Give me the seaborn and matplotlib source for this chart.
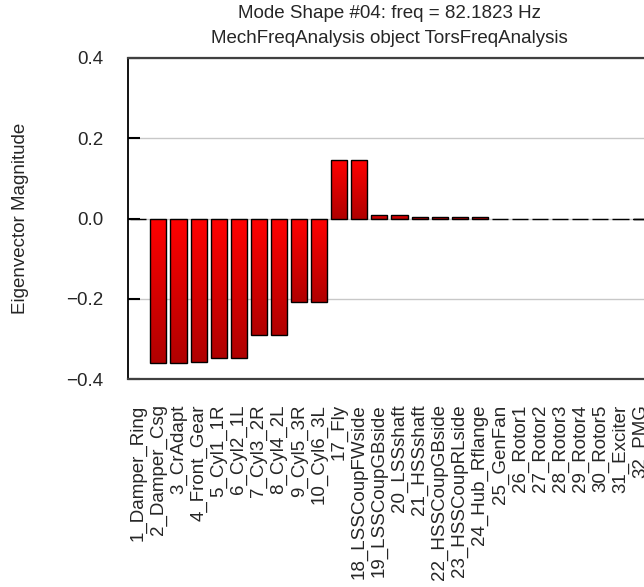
import numpy as np
import pandas as pd
import matplotlib
matplotlib.use('Agg')
import matplotlib.pyplot as plt
from matplotlib.colors import LinearSegmentedColormap
import seaborn as sns

# mode shape data
nodes = ['1_Damper_Ring', '2_Damper_Csg', '3_CrAdapt', '4_Front_Gear', '5_Cyl1_1R',
         '6_Cyl2_1L', '7_Cyl3_2R', '8_Cyl4_2L', '9_Cyl5_3R', '10_Cyl6_3L',
         '17_Fly', '18_LSSCoupFWside', '19_LSSCoupGBside', '20_LSSshaft', '21_HSSshaft',
         '22_HSSCoupGBside', '23_HSSCoupRLside', '24_Hub_Rflange', '25_GenFan',
         '26_Rotor1', '27_Rotor2', '28_Rotor3', '29_Rotor4', '30_Rotor5',
         '31_Exciter', '32_PMG']
magnitude = [0.0, -0.360, -0.360, -0.358, -0.346, -0.346, -0.289, -0.289, -0.207, -0.207,
             0.147, 0.147, 0.009, 0.009, 0.003, 0.003, 0.003, 0.003,
             0.0, 0.0, 0.0, 0.0, 0.0, 0.0, 0.0, 0.0]
yticks = [-0.4, -0.2, 0.0, 0.2, 0.4]

title1 = 'Mode Shape #04: freq = 82.1823 Hz'
title2 = 'MechFreqAnalysis object TorsFreqAnalysis'

sns.set_style('white')
plt.rcParams['font.family'] = ['Liberation Sans', 'DejaVu Sans']
fs = 13.5

df = pd.DataFrame({'node': nodes, 'mag': magnitude})

fig = plt.figure(figsize=(6.44, 5.87), dpi=100)
ax = fig.add_axes([128.3 / 644, (587 - 379.3) / 587, 522.3 / 644, 321.3 / 587])

sns.barplot(data=df, x='node', y='mag', color='red', edgecolor='black',
            linewidth=1.0, width=0.8, saturation=1, ax=ax)

# vertical red gradient inside each bar
cmap = LinearSegmentedColormap.from_list('redgrad', ['#b00000', '#ff0000'])
grad = np.linspace(0, 1, 128).reshape(-1, 1)
for p in ax.patches:
    x0, y0 = p.get_x(), p.get_y()
    w, h = p.get_width(), p.get_height()
    if abs(h) > 1e-4:
        ylo, yhi = min(y0, y0 + h), max(y0, y0 + h)
        im = ax.imshow(grad, cmap=cmap, aspect='auto', origin='lower',
                       extent=(x0, x0 + w, ylo, yhi), zorder=2, interpolation='bilinear')
        im.set_clip_path(p)
    p.set_facecolor('none')
    p.set_zorder(3)

ax.set_xlim(-0.5, len(nodes) - 0.5)
ax.set_ylim(-0.4, 0.4)
ax.set_yticks(yticks)

ax.set_axisbelow(True)
ax.yaxis.grid(True, color='#c8c8c8', linewidth=1.0)
ax.xaxis.grid(False)

for side in ['top', 'bottom']:
    ax.spines[side].set_color('#404040')
    ax.spines[side].set_linewidth(1.6)
ax.spines['left'].set_color('black')
ax.spines['left'].set_linewidth(1.3)
ax.spines['right'].set_visible(False)

ax.tick_params(axis='y', direction='in', length=8.6, width=1.5, color='black',
               pad=18, labelsize=fs, left=True)
ax.tick_params(axis='x', length=0, pad=18, labelsize=fs)
plt.setp(ax.get_xticklabels(), rotation=90, ha='center', va='top')

ax.set_xlabel('')
ax.set_ylabel('Eigenvector Magnitude', fontsize=fs)
ax.yaxis.set_label_coords(-0.191, 0.5)

cx = (128.3 + 650.6) / 2 / 644
fig.text(cx, 1 - 18 / 587, title1, ha='center', va='baseline', fontsize=fs)
fig.text(cx, 1 - 43 / 587, title2, ha='center', va='baseline', fontsize=fs)

fig.savefig('out.png', dpi=100, facecolor='white')
